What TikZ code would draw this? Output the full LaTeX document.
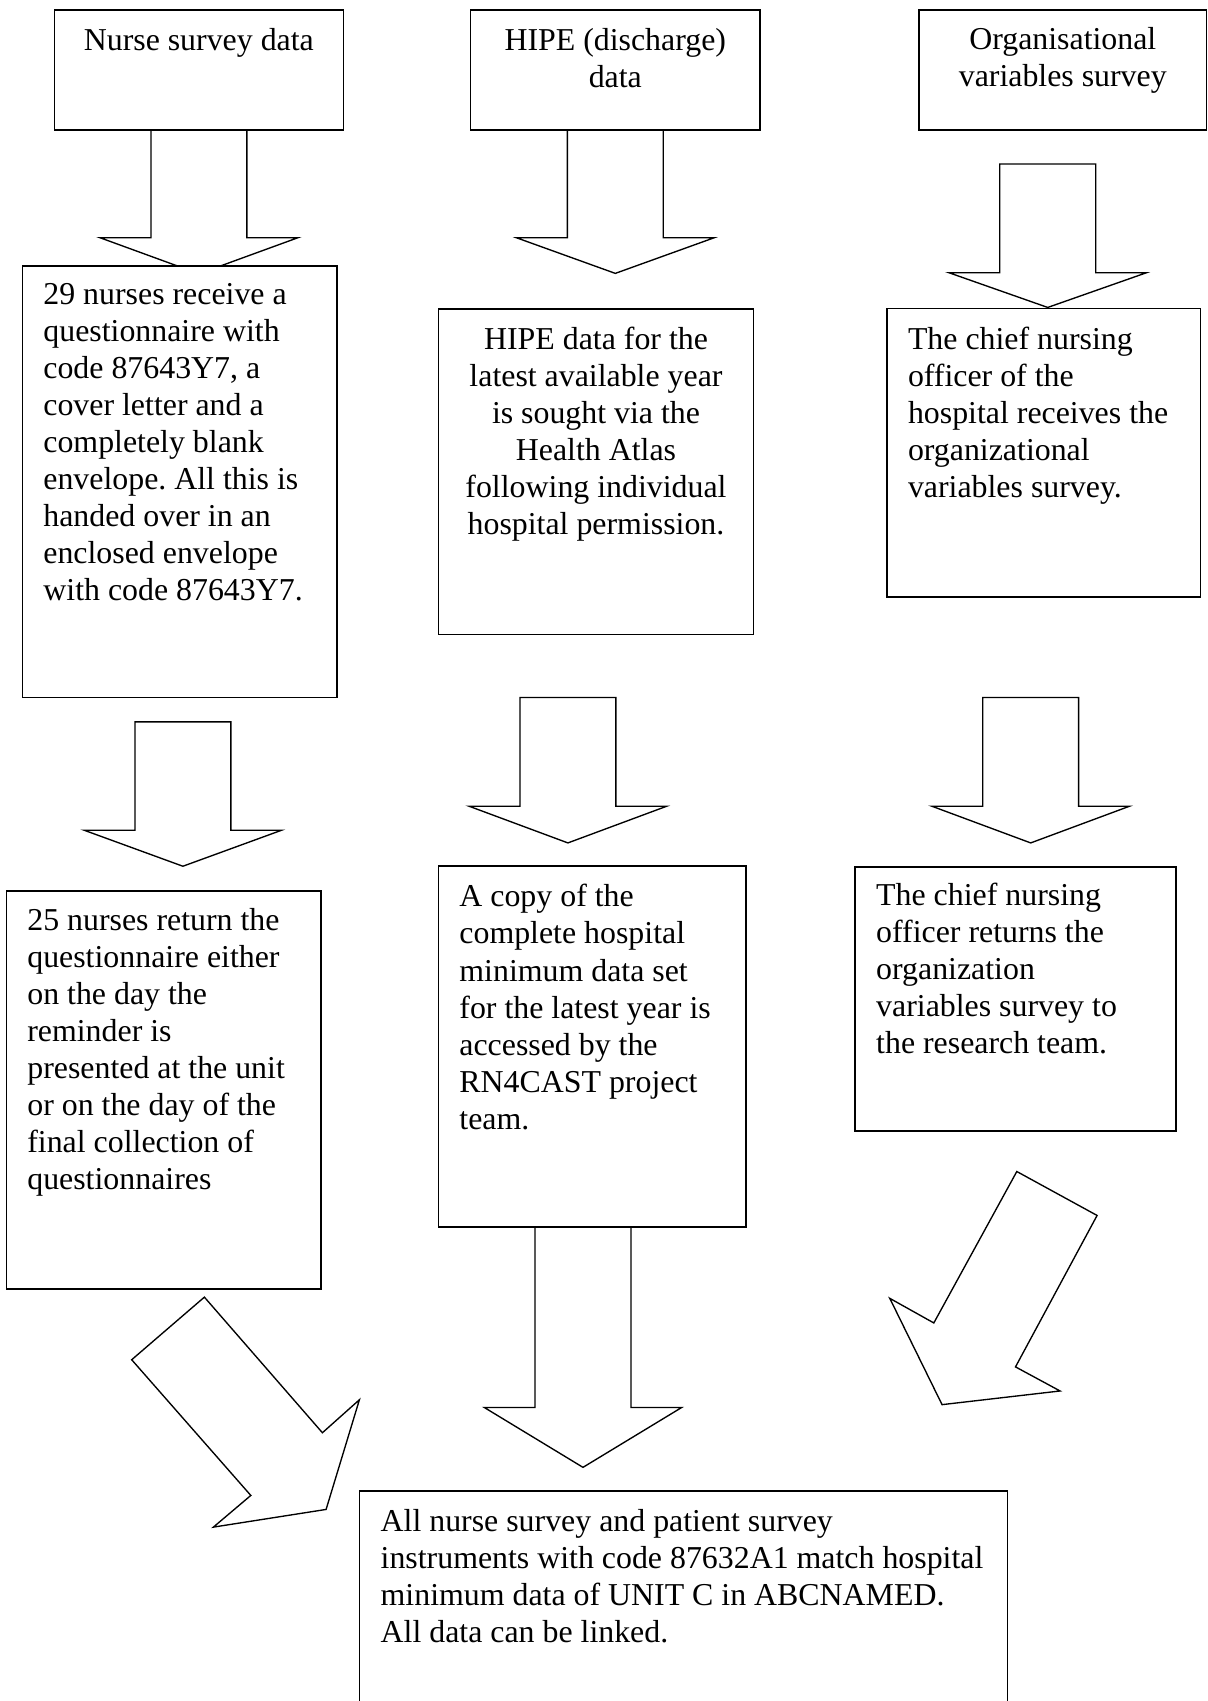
\documentclass[tikz,border=0pt]{standalone}
\usepackage{fontspec}
\setmainfont{Liberation Serif}
\usetikzlibrary{fit}
\frenchspacing

% text block whose reference point is the baseline of its first line
\newcommand\lefttext[1]{\parbox[t]{260pt}{\raggedright #1}}
\newcommand\centretext[1]{\parbox[t]{200pt}{\centering #1}}

% downward block arrow: centre x, top y, head base y, tip y
\newcommand\downblock[4]{%
  \filldraw[blockarrow] (#1-44.2,#2) -- (#1-44.2,#3) -- (#1-91,#3) -- (#1,#4)
    -- (#1+91,#3) -- (#1+44.2,#3) -- (#1+44.2,#2) -- cycle;}

\tikzset{
  flowbox/.style={draw, line width=0.6pt, fill=white, inner sep=0pt, outer sep=0pt},
  blockarrow/.style={draw=black, fill=white, line width=0.5pt, line join=miter},
  boxtext/.style={inner sep=0pt, outer sep=0pt, anchor=base west,
    font=\fontsize{11.75pt}{13.66pt}\selectfont},
  boxtextc/.style={boxtext, anchor=base},
}

\begin{document}
\begin{tikzpicture}[x=0.4pt, y=-0.4pt]
\useasboundingbox (0,0) rectangle (1113,1568);
\clip (0,0) rectangle (1113,1568);

% ---- block arrows (drawn first, boxes lie on top) ----
\downblock{183.4}{119.9}{219.2}{252.4}
\downblock{567.2}{119.9}{219.2}{252.0}
\downblock{965.8}{151.2}{251.4}{283.4}
\downblock{168.6}{665.4}{765.3}{798.5}
\downblock{523.5}{643.0}{743.2}{777.0}
\downblock{950.1}{643.0}{743.2}{777.0}
\downblock{537.4}{1131.1}{1297.4}{1352.6}

% slanted arrow from the nurse column to the linking box
\filldraw[blockarrow] (188.4,1195.7) -- (297.2,1320.7) -- (331.3,1290.3)
  -- (300.6,1391.4) -- (196.7,1407.7) -- (231.2,1378.5) -- (121.4,1253.4) -- cycle;
% slanted arrow from the organisational column to the linking box
\filldraw[blockarrow] (937.3,1079.9) -- (1011.3,1120.4) -- (936.1,1260.0)
  -- (977.2,1282.2) -- (868.4,1294.8) -- (820.2,1196.8) -- (860.8,1219.5) -- cycle;

% ---- boxes ----
\node[flowbox, fit={(50.1,9.2) (316.6,119.9)}] (nurse) {};
\node[flowbox, fit={(433.7,9.2) (700.6,119.9)}] (hipe) {};
\node[flowbox, fit={(847.4,9.2) (1112.2,119.9)}] (org) {};
\node[flowbox, fit={(20.9,245.0) (310.5,643.0)}] (nurseA) {};
\node[flowbox, fit={(404.2,284.9) (694.6,584.9)}] (hipeA) {};
\node[flowbox, fit={(817.6,284.3) (1106.5,550.2)}] (orgA) {};
\node[flowbox, fit={(6.1,821.3) (296.0,1188.0)}] (nurseB) {};
\node[flowbox, fit={(404.2,798.5) (687.9,1131.1)}] (hipeB) {};
\node[flowbox, fit={(788.4,799.1) (1084.1,1042.6)}] (orgB) {};
\node[flowbox, fit={(331.3,1374.5) (928.6,1610)}] (link) {};

% ---- texts ----
\node[boxtextc] (t-nurse) at (183.3,46.7) {\centretext{Nurse survey data}};
\node[boxtextc] (t-hipe) at (567.2,46.5) {\centretext{HIPE (discharge)\\data}};
\node[boxtextc] (t-org) at (979.7,45.2) {\centretext{Organisational\\variables survey}};

\node[boxtext] (t-nurseA) at (40.0,280.6) {\lefttext{29 nurses receive a\\
questionnaire with\\
code 87643Y7, a\\
cover letter and a\\
completely blank\\
envelope. All this is\\
handed over in an\\
enclosed envelope\\
with code 87643Y7.}};

\node[boxtextc] (t-hipeA) at (549.4,322.0) {\centretext{HIPE data for the\\
latest available year\\
is sought via the\\
Health Atlas\\
following individual\\
hospital permission.}};

\node[boxtext] (t-orgA) at (837.0,322.0) {\lefttext{The chief nursing\\
officer of the\\
hospital receives the\\
organizational\\
variables survey.}};

\node[boxtext] (t-nurseB) at (25.2,857.5) {\lefttext{25 nurses return the\\
questionnaire either\\
on the day the\\
reminder is\\
presented at the unit\\
or on the day of the\\
final collection of\\
questionnaires}};

\node[boxtext] (t-hipeB) at (423.5,836.0) {\lefttext{A copy of the\\
complete hospital\\
minimum data set\\
for the latest year is\\
accessed by the\\
RN4CAST project\\
team.}};

\node[boxtext] (t-orgB) at (807.7,834.5) {\lefttext{The chief nursing\\
officer returns the\\
organization\\
variables survey to\\
the research team.}};

\node[boxtext] (t-link) at (350.9,1411.5) {\lefttext{All nurse survey and patient survey\\
instruments with code 87632A1 match hospital\\
minimum data of UNIT C in ABCNAMED.\\
All data can be linked.}};
\end{tikzpicture}
\end{document}
